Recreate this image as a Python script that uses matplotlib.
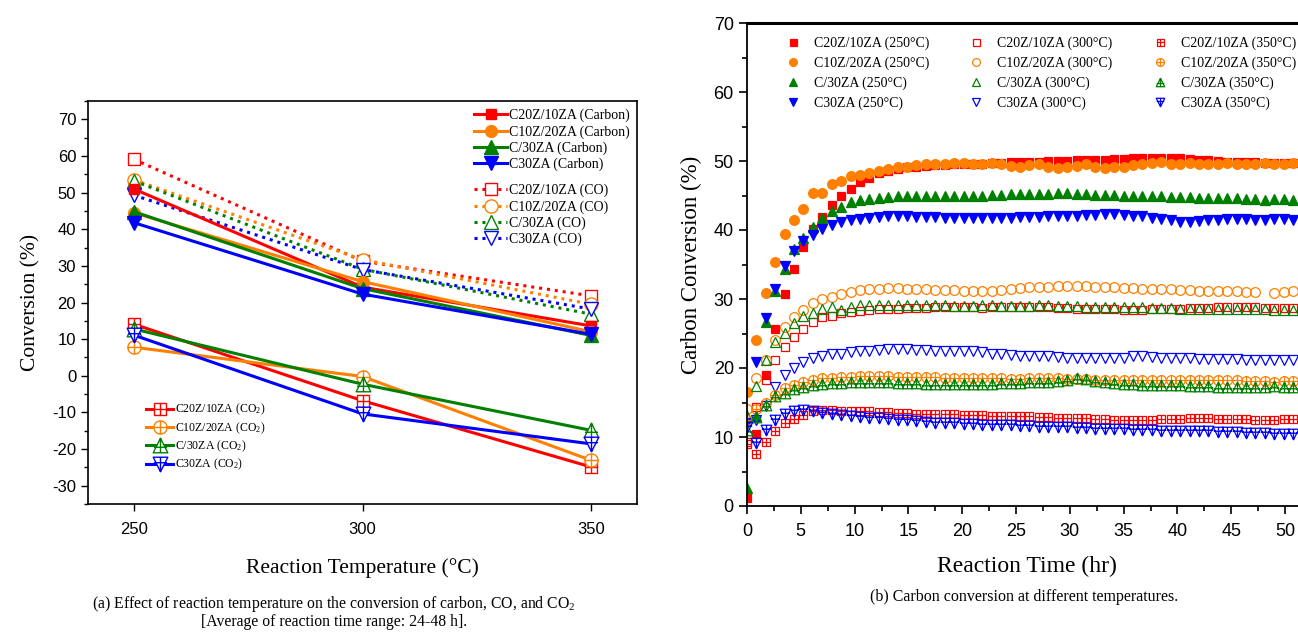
import numpy as np
import matplotlib
matplotlib.use("Agg")
import matplotlib.pyplot as plt
from matplotlib.path import Path
from matplotlib.ticker import MultipleLocator

plt.rcParams["font.family"] = ["Liberation Serif", "DejaVu Serif"]
plt.rcParams["mathtext.fontset"] = "custom"
plt.rcParams["mathtext.rm"] = "Liberation Serif"
plt.rcParams["mathtext.it"] = "Liberation Serif:italic"
plt.rcParams["axes.unicode_minus"] = False

# ---- (a) conversion vs reaction temperature ----
temps = [250, 300, 350]
carbon_c20z10za = [51.0, 24.2, 13.6]
carbon_c10z20za = [44.5, 25.7, 12.0]
carbon_c_30za = [44.8, 23.8, 11.0]
carbon_c30za = [41.8, 22.3, 11.3]
co_c20z10za = [59.1, 31.3, 21.8]
co_c10z20za = [53.5, 31.7, 19.5]
co_c_30za = [53.2, 29.1, 16.8]
co_c30za = [49.3, 29.0, 18.2]
co2_c20z10za = [14.1, -6.8, -24.9]
co2_c10z20za = [7.8, -0.2, -23.1]
co2_c_30za = [12.8, -2.3, -14.9]
co2_c30za = [11.1, -10.4, -18.6]
samples = ["C20Z/10ZA", "C10Z/20ZA", "C/30ZA", "C30ZA"]

# ---- (b) carbon conversion vs time ----
sample_interval_hr = 0.875
red_250 = [1.2, 10.4, 19.0, 25.7, 30.7, 34.4, 37.6, 40.1, 41.9, 43.6, 44.9, 46.0, 46.9,
           47.6, 48.2, 48.6, 48.9, 49.1, 49.2, 49.3, 49.4, 49.4, 49.5,
           49.5, 49.6, 49.6, 49.7, 49.7, 49.8, 49.8, 49.9, 49.9, 50.0,
           50.0, 50.0, 50.1, 50.1, 50.2, 50.2, 50.3, 50.3, 50.4, 50.4,
           50.4, 50.4, 50.4, 50.4, 50.3, 50.2, 50.1, 50.0, 49.9, 49.9,
           49.8, 49.8, 49.7, 49.7, 49.7, 49.7]
orange_250 = [16.5, 24.1, 30.9, 35.3, 39.4, 41.5, 43.1, 45.3, 45.4, 46.6, 47.1, 47.8, 48.0,
              48.3, 48.6, 48.9, 49.1, 49.2, 49.4, 49.5, 49.6, 49.6, 49.7,
              49.7, 49.6, 49.6, 49.7, 49.5, 49.3, 49.2, 49.4, 49.6, 49.2,
              49.0, 49.1, 49.3, 49.5, 49.2, 49.0, 49.1, 49.2, 49.4, 49.6,
              49.7, 49.8, 49.6, 49.5, 49.7, 49.6, 49.5, 49.6, 49.7, 49.6,
              49.5, 49.6, 49.7, 49.6, 49.6, 49.7]
green_250 = [2.6, 13.0, 26.7, 31.1, 34.4, 37.3, 38.9, 40.4, 41.7, 42.7, 43.4, 44.0,
             44.3, 44.5, 44.7, 44.8, 44.9, 45.0, 45.0, 45.0, 44.9, 44.9,
             44.9, 44.9, 45.0, 45.0, 45.1, 45.1, 45.2, 45.2, 45.2, 45.2,
             45.2, 45.3, 45.3, 45.2, 45.2, 45.1, 45.1, 45.1, 45.0, 45.0,
             44.9, 44.9, 44.9, 44.8, 44.8, 44.8, 44.7, 44.7, 44.6, 44.6,
             44.6, 44.5, 44.5, 44.4, 44.5, 44.5, 44.4]
blue_250 = [12.0, 20.9, 27.2, 31.5, 34.8, 37.0, 38.4, 39.3, 40.2, 40.7, 41.1, 41.4, 41.6,
            41.8, 41.9, 42.0, 42.0, 42.0, 41.9, 41.9, 41.9, 41.8, 41.8,
            41.8, 41.8, 41.7, 41.8, 41.8, 41.8, 41.9, 41.9, 41.9, 42.0,
            42.0, 42.1, 42.1, 42.2, 42.2, 42.3, 42.3, 42.2, 42.1, 42.0,
            41.8, 41.6, 41.4, 41.2, 41.1, 41.3, 41.4, 41.5, 41.6, 41.6,
            41.6, 41.5, 41.5, 41.6, 41.6, 41.5]
red_300 = [9.3, 14.4, 18.3, 21.1, 23.0, 24.5, 25.6, 26.6, 27.4, 27.6, 27.9, 28.1, 28.3,
           28.4, 28.5, 28.6, 28.6, 28.7, 28.7, 28.7, 28.8, 28.8, 28.8,
           28.8, 28.8, 28.7, 28.8, 28.8, 28.9, 28.9, 28.9, 28.8, 28.8,
           28.7, 28.7, 28.6, 28.6, 28.5, 28.5, 28.5, 28.4, 28.4, 28.4,
           28.5, 28.5, 28.6, 28.6, 28.7, 28.7, 28.7, 28.8, 28.8, 28.8,
           28.8, 28.8, 28.7, 28.7, 28.7, 28.7]
orange_300 = [14.0, 18.5, 21.2, 24.1, 26.0, 27.4, 28.4, 29.4, 30.0, 30.3, 30.7, 31.0, 31.3,
              31.4, 31.5, 31.6, 31.6, 31.5, 31.4, 31.4, 31.3, 31.3, 31.3,
              31.2, 31.2, 31.2, 31.2, 31.3, 31.4, 31.6, 31.7, 31.8, 31.8,
              31.9, 31.9, 31.9, 31.9, 31.8, 31.8, 31.7, 31.6, 31.6, 31.5,
              31.5, 31.4, 31.4, 31.3, 31.3, 31.2, 31.2, 31.1, 31.1, 31.1,
              31.0, 31.0, np.nan, 30.9, 31.0, 31.1]
green_300 = [13.0, 17.4, 21.2, 23.7, 25.1, 26.5, 27.6, 27.9, 28.6, 28.8, 28.4, 28.8,
             29.1, 29.1, 29.2, 29.2, 29.1, 29.1, 29.2, 29.2, 29.1, 29.1,
             29.0, 29.0, 29.0, 29.1, 29.1, 29.0, 29.0, 29.0, 29.0, 29.1,
             29.1, 29.0, 29.0, 29.0, 28.9, 28.9, 28.9, 28.9, 28.8, 28.8,
             28.8, 28.7, 28.7, 28.7, 28.6, 28.6, 28.6, 28.6, 28.6, 28.5,
             28.5, 28.5, 28.5, 28.5, 28.4, 28.4, 28.4]
blue_300 = [12.0, 12.5, 14.5, 17.3, 19.0, 20.0, 20.9, 21.4, 21.7, 22.0, 22.1, 22.3, 22.4,
            22.5, 22.6, 22.7, 22.7, 22.7, 22.6, 22.6, 22.5, 22.5, 22.5,
            22.5, 22.4, 22.3, 22.1, 22.0, 21.9, 21.8, 21.8, 21.8, 21.7,
            21.6, 21.5, 21.4, 21.4, 21.4, 21.4, 21.4, 21.5, 21.7, 21.7,
            21.6, 21.5, 21.4, 21.4, 21.4, 21.3, 21.3, 21.3, 21.3, 21.3,
            21.2, 21.2, 21.2, 21.1, 21.1, 21.1]
red_350 = [9.0, 7.6, 9.3, 10.8, 12.0, 12.6, 13.2, 13.7, 13.9, 13.9, 13.8, 13.8, 13.7,
           13.7, 13.6, 13.6, 13.5, 13.5, 13.4, 13.4, 13.3, 13.3, 13.3,
           13.2, 13.2, 13.2, 13.1, 13.1, 13.1, 13.0, 13.0, 12.9, 12.9,
           12.8, 12.8, 12.7, 12.7, 12.6, 12.6, 12.5, 12.5, 12.5, 12.5,
           12.5, 12.6, 12.6, 12.6, 12.7, 12.7, 12.7, 12.6, 12.6, 12.6,
           12.6, 12.5, 12.5, 12.5, 12.6, 12.6]
orange_350 = [12.5, 14.0, 15.0, 16.1, 17.1, 17.6, 18.0, 18.3, 18.5, 18.6, 18.7, 18.7, 18.8,
              18.8, 18.8, 18.8, 18.7, 18.7, 18.7, 18.7, 18.7, 18.6, 18.6,
              18.6, 18.6, 18.5, 18.5, 18.5, 18.4, 18.4, 18.5, 18.6, 18.6,
              18.5, 18.4, 18.4, 18.4, 18.3, 18.3, 18.3, 18.3, 18.3, 18.2,
              18.2, 18.2, 18.2, 18.2, 18.3, 18.3, 18.2, 18.2, 18.2, 18.2,
              18.1, 18.1, 18.1, 18.0, 18.1, 18.1]
green_350 = [11.0, 12.9, 14.6, 15.9, 16.4, 17.0, 17.3, 17.5, 17.7, 17.8, 17.8, 17.9, 17.9,
             17.9, 17.9, 17.9, 17.8, 17.8, 17.8, 17.7, 17.7, 17.7, 17.7,
             17.7, 17.7, 17.7, 17.7, 17.8, 17.8, 17.8, 17.9, 17.9, 18.0,
             18.1, 18.3, 18.5, 18.4, 18.1, 17.9, 17.8, 17.7, 17.7, 17.6,
             17.5, 17.5, 17.5, 17.5, 17.4, 17.4, 17.4, 17.3, 17.3, 17.3,
             17.3, 17.3, 17.3, 17.4, 17.3, 17.3]
blue_350 = [11.5, 9.1, 11.0, 12.5, 13.3, 13.8, 13.9, 13.7, 13.5, 13.3, 13.2, 13.0, 12.9,
            12.8, 12.7, 12.6, 12.5, 12.4, 12.3, 12.2, 12.1, 12.0, 12.0,
            11.9, 11.9, 11.8, 11.8, 11.7, 11.7, 11.6, 11.6, 11.5, 11.5,
            11.4, 11.4, 11.3, 11.3, 11.2, 11.2, 11.1, 11.1, 11.0, 11.0,
            11.0, 10.9, 10.9, 10.9, 10.8, 10.8, 10.8, 10.7, 10.7, 10.7,
            10.6, 10.6, 10.6, 10.5, 10.5, 10.5]
time_hr = np.arange(len(red_250)) * sample_interval_hr

RED, ORANGE, GREEN, BLUE = "#ff0000", "#ff8000", "#008000", "#0000ff"
colors = [RED, ORANGE, GREEN, BLUE]


# markers with a cross inside (used for CO2 / 350 C)
def crossed(base, segs):
    cross = Path([p for s in segs for p in s], [Path.MOVETO, Path.LINETO] * len(segs))
    return Path.make_compound_path(base, cross)


M, L, C = Path.MOVETO, Path.LINETO, Path.CLOSEPOLY
sq_plus = crossed(Path([(-1, -1), (1, -1), (1, 1), (-1, 1), (-1, -1)], [M, L, L, L, C]),
                  [((0, -1), (0, 1)), ((-1, 0), (1, 0))])
ci_plus = crossed(Path.unit_circle(), [((0, -1), (0, 1)), ((-1, 0), (1, 0))])
tu_plus = crossed(Path([(0, 1), (-1, -1), (1, -1), (0, 1)], [M, L, L, C]),
                  [((0, 1), (0, -1)), ((-0.9, -0.25), (0.9, -0.25))])
td_plus = crossed(Path([(0, -1), (-1, 1), (1, 1), (0, -1)], [M, L, L, C]),
                  [((0, -1), (0, 1)), ((-0.9, 0.25), (0.9, 0.25))])
plain_markers = ["s", "o", "^", "v"]
cross_markers = [sq_plus, ci_plus, tu_plus, td_plus]
ms_left = [7.5, 8.5, 9.5, 9.5]
ms_right = [6.3, 7.0, 7.6, 7.6]

W, H = 1298, 632
fig = plt.figure(figsize=(W / 100, H / 100), dpi=100)


def px_rect(x0, y0, x1, y1):
    return [x0 / W, 1 - y1 / H, (x1 - x0) / W, (y1 - y0) / H]


# ---------------- panel (a) ----------------
ax = fig.add_axes(px_rect(88, 101, 637, 504))
carbon = [carbon_c20z10za, carbon_c10z20za, carbon_c_30za, carbon_c30za]
co = [co_c20z10za, co_c10z20za, co_c_30za, co_c30za]
co2 = [co2_c20z10za, co2_c10z20za, co2_c_30za, co2_c30za]

h_carbon, h_co, h_co2 = [], [], []
for i in range(4):
    l, = ax.plot(temps, co2[i], color=colors[i], lw=2.2, marker=cross_markers[i],
                 ms=ms_left[i] + 1, mfc="white", mec=colors[i], mew=1.0,
                 label=f"{samples[i]} (CO$_2$)")
    h_co2.append(l)
for i in range(4):
    l, = ax.plot(temps, co[i], color=colors[i], lw=2.2, ls=(0, (1, 1.6)),
                 marker=plain_markers[i], ms=ms_left[i] + 1, mfc="white", mec=colors[i],
                 mew=1.0, label=f"{samples[i]} (CO)")
    h_co.append(l)
for i in range(4):
    l, = ax.plot(temps, carbon[i], color=colors[i], lw=2.2, marker=plain_markers[i],
                 ms=ms_left[i], mfc=colors[i], mec=colors[i], label=f"{samples[i]} (Carbon)")
    h_carbon.append(l)

ax.set_xlim(240, 360)
ax.set_ylim(-35, 75)
ax.set_xticks(temps)
ax.yaxis.set_major_locator(MultipleLocator(10))
ax.yaxis.set_minor_locator(MultipleLocator(5))
ax.tick_params(which="both", direction="out", top=False, right=False,
               labelsize=12, labelfontfamily="Liberation Sans")
ax.tick_params(which="major", length=5, width=1)
ax.tick_params(which="minor", length=3, width=1)
ax.tick_params(axis="x", pad=8)
for s in ax.spines.values():
    s.set_linewidth(1.2)
ax.set_xlabel("Reaction Temperature (°C)", fontsize=15.5, labelpad=15)
ax.set_ylabel("Conversion (%)", fontsize=15.5, labelpad=8)

leg_kw = dict(frameon=False, borderpad=0, borderaxespad=0, handletextpad=0.15,
              numpoints=1, loc="upper left", bbox_transform=fig.transFigure)
lg1 = ax.legend(handles=h_carbon, fontsize=10, handlelength=2.4, labelspacing=0.2,
                bbox_to_anchor=(474 / W, 1 - 109 / H), **leg_kw)
ax.add_artist(lg1)
lg2 = ax.legend(handles=h_co, fontsize=10, handlelength=2.4, labelspacing=0.2,
                bbox_to_anchor=(474 / W, 1 - 184 / H), **leg_kw)
ax.add_artist(lg2)
ax.legend(handles=h_co2, fontsize=8.5, handlelength=2.3, labelspacing=0.25,
          bbox_to_anchor=(146 / W, 1 - 402 / H), **leg_kw)

# ---------------- panel (b) ----------------
bx = fig.add_axes(px_rect(747, 23, 747 + 52 * 10.76, 506))
series_b = [
    (red_250, "s", RED, True, "C20Z/10ZA (250°C)"),
    (orange_250, "o", ORANGE, True, "C10Z/20ZA (250°C)"),
    (green_250, "^", GREEN, True, "C/30ZA (250°C)"),
    (blue_250, "v", BLUE, True, "C30ZA (250°C)"),
    (red_300, "s", RED, False, "C20Z/10ZA (300°C)"),
    (orange_300, "o", ORANGE, False, "C10Z/20ZA (300°C)"),
    (green_300, "^", GREEN, False, "C/30ZA (300°C)"),
    (blue_300, "v", BLUE, False, "C30ZA (300°C)"),
    (red_350, sq_plus, RED, False, "C20Z/10ZA (350°C)"),
    (orange_350, ci_plus, ORANGE, False, "C10Z/20ZA (350°C)"),
    (green_350, tu_plus, GREEN, False, "C/30ZA (350°C)"),
    (blue_350, td_plus, BLUE, False, "C30ZA (350°C)"),
]
for k, (vals, mk, col, filled, lab) in enumerate(series_b):
    j = k % 4
    bx.plot(time_hr, vals, ls="none", marker=mk, ms=ms_right[j],
            mfc=col if filled else "none", mec=col, mew=0.9, label=lab)

bx.set_xlim(0, 52)
bx.set_ylim(0, 70)
bx.xaxis.set_major_locator(MultipleLocator(5))
bx.xaxis.set_minor_locator(MultipleLocator(2.5))
bx.yaxis.set_major_locator(MultipleLocator(10))
bx.yaxis.set_minor_locator(MultipleLocator(5))
bx.tick_params(which="both", direction="out", top=False, right=False,
               labelsize=13, labelfontfamily="Liberation Sans")
bx.tick_params(which="major", length=6, width=1.2)
bx.tick_params(which="minor", length=3.5, width=1.2)
bx.tick_params(axis="x", pad=6)
for s in bx.spines.values():
    s.set_linewidth(1.3)
bx.spines["top"].set_linewidth(2.2)
bx.set_xlabel("Reaction Time (hr)", fontsize=17, labelpad=12)
bx.set_ylabel("Carbon Conversion (%)", fontsize=16.5, labelpad=8)
bx.legend(ncol=3, fontsize=10, frameon=False, loc="upper left", borderpad=0,
          borderaxespad=0, handlelength=1.0, handletextpad=1.0, columnspacing=2.9,
          labelspacing=0.45, markerscale=0.8, numpoints=1,
          bbox_to_anchor=(786 / W, 1 - 37 / H), bbox_transform=fig.transFigure)

# ---------------- captions ----------------
fig.text(334 / W, 1 - 604 / H,
         "(a) Effect of reaction temperature on the conversion of carbon, CO, and CO$_2$",
         ha="center", va="center", fontsize=11.3)
fig.text(334 / W, 1 - 622 / H, "[Average of reaction time range: 24-48 h].",
         ha="center", va="center", fontsize=11.3)
fig.text(1024 / W, 1 - 597 / H, "(b) Carbon conversion at different temperatures.",
         ha="center", va="center", fontsize=11.5)

fig.savefig("out.png", dpi=100)
